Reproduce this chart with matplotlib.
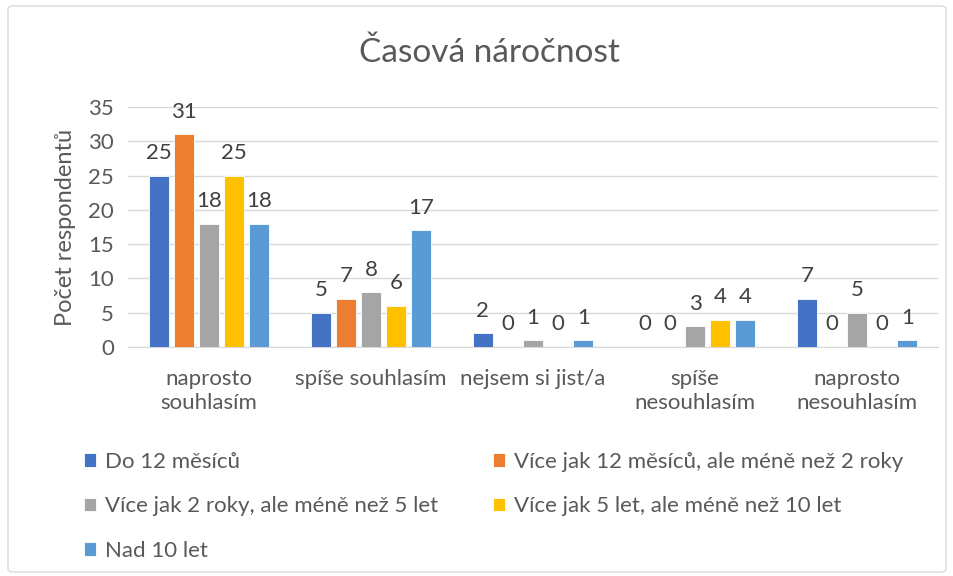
import matplotlib
matplotlib.use("Agg")
import matplotlib.pyplot as plt
import matplotlib.patches as patches
import numpy as np

# ─── data ───
categories = ["naprosto\nsouhlasím", "spíše souhlasím", "nejsem si jist/a",
              "spíše\nnesouhlasím", "naprosto\nnesouhlasím"]
series_names = ["Do 12 měsíců",
                "Více jak 12 měsíců, ale méně než 2 roky",
                "Více jak 2 roky, ale méně než 5 let",
                "Více jak 5 let, ale méně než 10 let",
                "Nad 10 let"]
do_12 = [25, 5, 2, 0, 7]
od_12_do_2 = [31, 7, 0, 0, 0]
od_2_do_5 = [18, 8, 1, 3, 5]
od_5_do_10 = [25, 6, 0, 4, 0]
nad_10 = [18, 17, 1, 4, 1]
series = [do_12, od_12_do_2, od_2_do_5, od_5_do_10, nad_10]
colors = ["#4472C4", "#ED7D31", "#A5A5A5", "#FFC000", "#5B9BD5"]

txt = "#595959"
fam = ["Lato", "DejaVu Sans"]
plt.rcParams["font.family"] = fam

fig = plt.figure(figsize=(9.54, 5.76), dpi=100)
W, H = 954, 576

# rámeček grafu
fig.patches.append(patches.FancyBboxPatch(
    (8 / W, 4 / H), 938 / W, 566 / H, boxstyle="round,pad=0,rounding_size=0.006",
    transform=fig.transFigure, facecolor="white", edgecolor="#D9D9D9", lw=1, zorder=-1))

ax = fig.add_axes([128 / W, 1 - 347 / H, 810 / W, 240 / H])
x = np.arange(len(categories))
step, width = 0.155, 0.124
for i, (vals, c, name) in enumerate(zip(series, colors, series_names)):
    pos = x + (i - 2) * step
    ax.bar(pos, vals, width, color=c, edgecolor="white", linewidth=0.6,
           label=name, zorder=3)
    for p, v in zip(pos, vals):
        ax.annotate(str(v), (p, v), xytext=(0, 9), textcoords="offset points",
                    ha="center", va="bottom", fontsize=16, color="#404040")

ax.set_xlim(-0.5, 4.5)
ax.set_ylim(0, 35)
ax.set_yticks(range(0, 36, 5))
ax.yaxis.grid(True, color="#D9D9D9", lw=1, zorder=0)
for s in ["top", "right", "left"]:
    ax.spines[s].set_visible(False)
ax.spines["bottom"].set_color("#D9D9D9")
ax.tick_params(axis="both", length=0, labelsize=16, labelcolor=txt)
ax.tick_params(axis="y", pad=10)
ax.tick_params(axis="x", pad=16)
ax.set_xticks(x)
ax.set_xticklabels(categories, linespacing=1.25)
ax.set_ylabel("Počet respondentů", fontsize=17, color=txt, labelpad=9)

fig.text(489 / W, 1 - 53 / H, "Časová náročnost", ha="center", va="center",
         fontsize=24, color=txt)

# legenda (řazení po řádcích)
handles, labels = ax.get_legend_handles_labels()
order = [0, 2, 4, 1, 3]
leg = fig.legend([handles[k] for k in order], [labels[k] for k in order],
                 loc="upper left", bbox_to_anchor=(64 / W, 1 - 432 / H),
                 ncol=2, frameon=False, fontsize=16, labelcolor=txt,
                 handlelength=0.55, handleheight=0.55, handletextpad=0.4,
                 columnspacing=2.45, labelspacing=1.1)

fig.savefig("out.png", dpi=100, facecolor="white")
